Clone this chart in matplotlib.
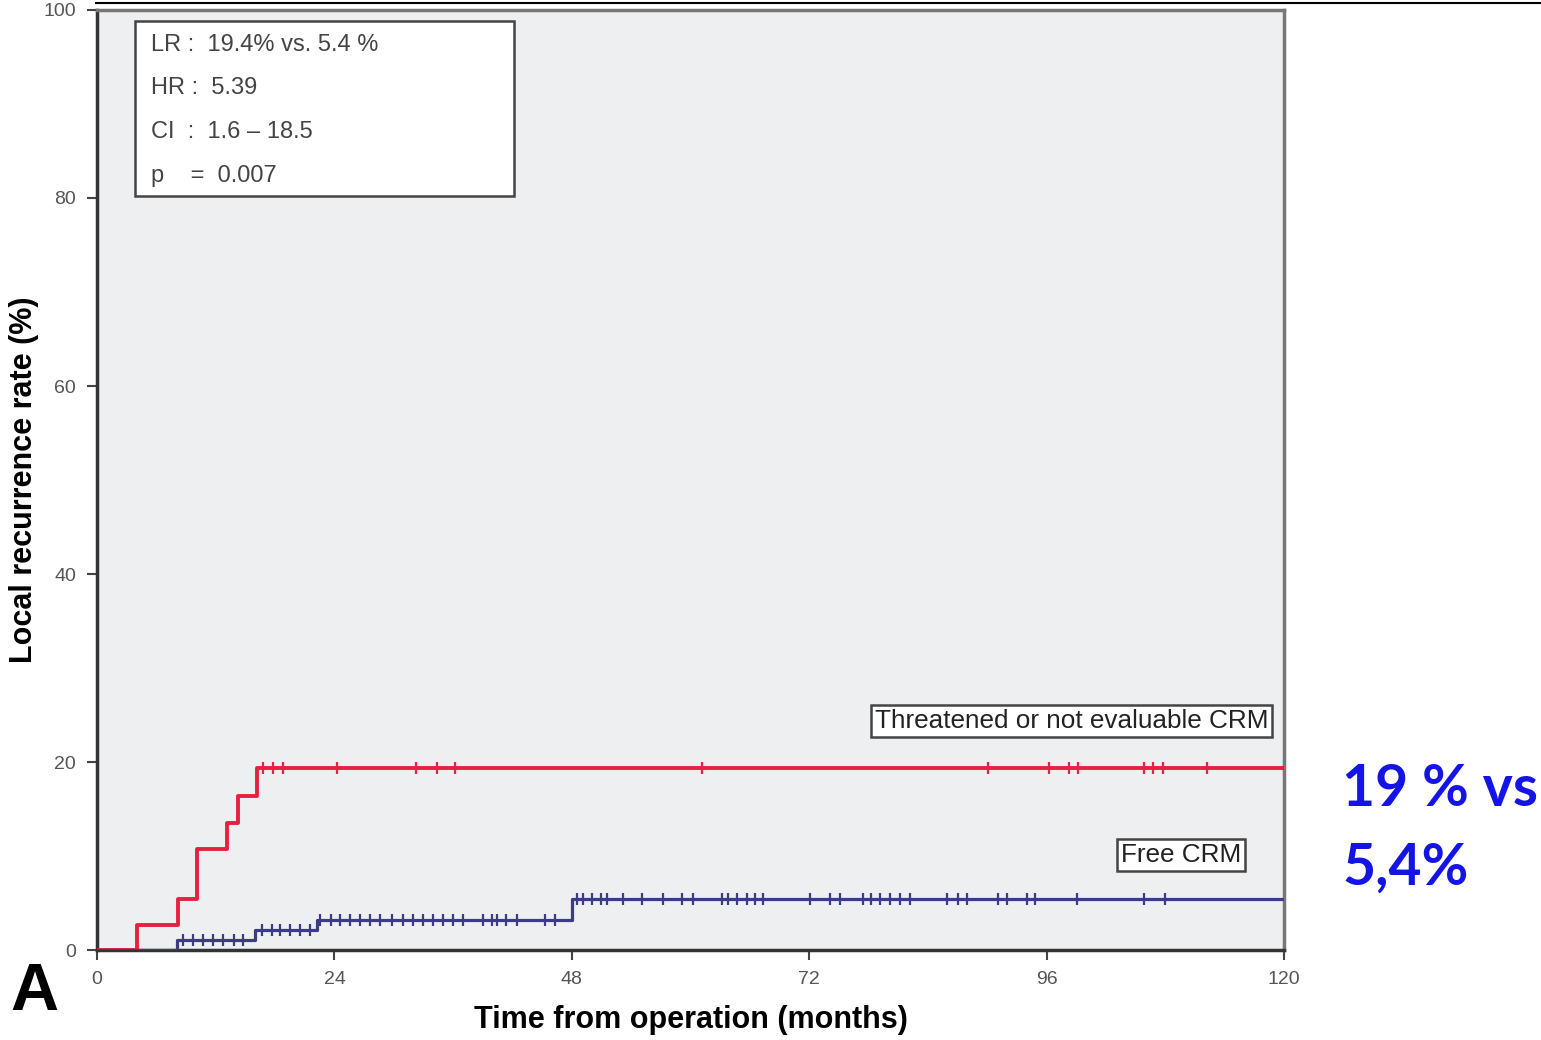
import numpy as np
import matplotlib
matplotlib.use("Agg")
import matplotlib.pyplot as plt
from matplotlib.lines import Line2D

# ---- data ----
red_t = [0, 4.0, 8.2, 10.1, 13.1, 14.2, 16.2, 120]
red_y = [0, 2.7, 5.4, 10.7, 13.5, 16.4, 19.4, 19.4]
red_cens = [16.8, 17.8, 18.8, 24.3, 32.2, 34.4, 36.2, 61.2, 90.1, 96.2, 98.3,
            99.2, 105.8, 106.8, 107.8, 112.2]

blue_t = [0, 8.1, 16.0, 22.2, 48.0, 120]
blue_y = [0, 1.1, 2.1, 3.2, 5.4, 5.4]
blue_cens = [8.7, 9.7, 10.7, 11.7, 12.7, 13.8, 14.8,
             16.7, 17.7, 18.5, 19.5, 20.5, 21.5,
             22.5, 23.6, 24.6, 25.6, 26.6, 27.6, 28.6, 29.8, 30.9, 31.9, 33.0,
             34.0, 35.0, 36.0, 37.0, 39.0, 39.9, 40.4, 41.3, 42.5, 45.3, 46.3,
             48.5, 49.1, 50.0, 50.9, 51.6, 53.2, 55.1, 57.2, 59.1, 60.3, 63.2,
             63.8, 64.7, 65.7, 66.5, 67.3, 72.1, 74.1, 75.1, 77.4, 78.2, 79.2,
             80.2, 81.2, 82.2, 85.9, 87.0, 88.0, 91.1, 92.0, 94.0, 94.8, 99.1,
             105.8, 108.0]

x_ticks = [0, 24, 48, 72, 96, 120]
y_ticks = [0, 20, 40, 60, 80, 100]
stats_lines = ["LR :  19.4% vs. 5.4 %", "HR :  5.39", "CI  :  1.6 \u2013 18.5", "p    =  0.007"]

RED = "#e8203f"
BLUE = "#3a3c86"

def level(ts, ys, t):
    idx = np.searchsorted(ts, t, side="right") - 1
    return np.asarray(ys)[idx]

plt.rcParams['font.family'] = ['Liberation Sans', 'DejaVu Sans']

fig = plt.figure(figsize=(15.41, 10.40), dpi=100)
ax = fig.add_axes([0.063, 0.0865, 0.7702, 0.9039])
ax.set_facecolor("#eeeff1")

ax.step(red_t, red_y, where="post", color=RED, lw=2.8, zorder=3)
ax.step(blue_t, blue_y, where="post", color=BLUE, lw=2.3, zorder=3)
ax.plot(red_cens, level(red_t, red_y, red_cens), ls="none", marker="|",
        ms=9, mew=1.6, color=RED, zorder=4)
ax.plot(blue_cens, level(blue_t, blue_y, blue_cens), ls="none", marker="|",
        ms=9, mew=1.6, color=BLUE, zorder=4)

ax.set_xlim(0, 120)
ax.set_ylim(0, 100)
ax.set_xticks(x_ticks)
ax.set_yticks(y_ticks)
ax.tick_params(axis="both", direction="out", length=7, width=1.5, color="#444444",
               labelsize=14, labelcolor="#555555", pad=8)
for s in ["left", "bottom"]:
    ax.spines[s].set_color("#333333")
    ax.spines[s].set_linewidth(2.5)
for s in ["top", "right"]:
    ax.spines[s].set_color("#777777")
    ax.spines[s].set_linewidth(2.5)

ax.set_xlabel("Time from operation (months)", fontsize=22, fontweight="bold", labelpad=12)
ax.set_ylabel("Local recurrence rate (%)", fontsize=22, fontweight="bold", labelpad=3)

# stats box
ax.add_patch(plt.Rectangle((3.8, 80.2), 38.4, 18.6, facecolor="white",
                           edgecolor="#444444", lw=1.8, zorder=5))
for i, line in enumerate(stats_lines):
    ax.text(5.5, 96.3 - i * 4.65, line, fontsize=17, color="#444444",
            va="center", ha="left", zorder=6)

ax.text(118.4, 24.4, "Threatened or not evaluable CRM", fontsize=18.8, color="#222222",
        ha="right", va="center", zorder=6,
        bbox=dict(boxstyle="square,pad=0.15", facecolor="white", edgecolor="#444444", lw=1.8))
ax.text(115.7, 10.1, "Free CRM", fontsize=18.8, color="#222222",
        ha="right", va="center", zorder=6,
        bbox=dict(boxstyle="square,pad=0.15", facecolor="white", edgecolor="#444444", lw=1.8))

fig.text(0.871, 0.203, "19 % vs\n5,4%", fontsize=41, fontweight="bold",
         color="#1414e6", ha="left", va="center", family=["Lato", "DejaVu Sans"],
         linespacing=1.62)
fig.text(0.007, 0.045, "A", fontsize=48, fontweight="bold", color="black",
         ha="left", va="center")

fig.add_artist(Line2D([0.062, 1.0], [0.9972, 0.9972], color="black", lw=1.5,
                      transform=fig.transFigure))

fig.savefig("out.png", dpi=100)
